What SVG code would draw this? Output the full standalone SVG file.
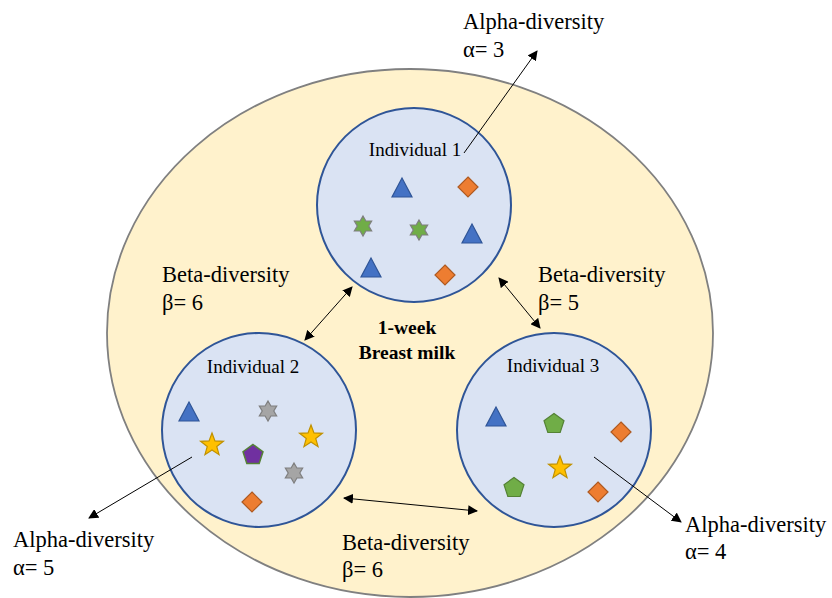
<svg xmlns="http://www.w3.org/2000/svg" width="832" height="598" viewBox="0 0 832 598">
<style>
.lbl{font-family:"Liberation Serif","Times New Roman",serif;font-size:22.5px;fill:#000}
.ind{font-family:"Liberation Serif","Times New Roman",serif;font-size:19px;fill:#000}
.ctr{font-family:"Liberation Serif","Times New Roman",serif;font-size:19.5px;font-weight:bold;fill:#000}
.circ{fill:#DAE3F3;stroke:#2F5597;stroke-width:2}
.ln{stroke:#000;stroke-width:1;fill:none}
.tri{fill:#4472C4;stroke:#2F5597;stroke-width:1.2}
.dia{fill:#ED7D31;stroke:#AE5A21;stroke-width:1.2}
.gst{fill:#70AD47;stroke:#7F7F7F;stroke-width:1.2}
.sst{fill:#A5A5A5;stroke:#7F7F7F;stroke-width:1.2}
.yst{fill:#FFC000;stroke:#BF9000;stroke-width:1.2}
.ppn{fill:#7030A0;stroke:#548235;stroke-width:1.5}
.gpn{fill:#70AD47;stroke:#548235;stroke-width:1.2}
</style>
<defs>
<marker id="ah" viewBox="0 0 10 10" refX="9" refY="5" markerWidth="10" markerHeight="10" markerUnits="userSpaceOnUse" orient="auto-start-reverse">
<path d="M0,0 L10,5 L0,10 z" fill="#000"/>
</marker>
<polygon id="tri" points="0,-10 10,9 -10,9"/>
<polygon id="dia" points="0,-10 10,0 0,10 -10,0"/>
<polygon id="hex" points="0,-10 2.89,-5 8.66,-5 5.77,0 8.66,5 2.89,5 0,10 -2.89,5 -8.66,5 -5.77,0 -8.66,-5 -2.89,-5"/>
<polygon id="star" points="0,-12 2.94,-4.05 11.41,-3.71 4.76,1.55 7.05,9.71 0,5 -7.05,9.71 -4.76,1.55 -11.41,-3.71 -2.94,-4.05"/>
<polygon id="pent" points="0,-10.5 9.99,-3.24 6.17,8.49 -6.17,8.49 -9.99,-3.24"/>
</defs>
<rect width="832" height="598" fill="#fff"/>
<g id="outer">
<ellipse cx="410" cy="333" rx="303" ry="264" fill="#FFF2CC" stroke="#808080" stroke-width="1.8"/>
<text class="ctr" x="407" y="334" text-anchor="middle">1-week</text>
<text class="ctr" x="407" y="359" text-anchor="middle">Breast milk</text>
</g>
<g id="individual1">
<circle class="circ" cx="414" cy="205" r="97"/>
<text class="ind" x="415" y="156" text-anchor="middle">Individual 1</text>
<use href="#tri" class="tri" x="402" y="188"/>
<use href="#dia" class="dia" x="468" y="187"/>
<use href="#hex" class="gst" x="363" y="226"/>
<use href="#hex" class="gst" x="419" y="230"/>
<use href="#tri" class="tri" x="472" y="234"/>
<use href="#tri" class="tri" x="371" y="268"/>
<use href="#dia" class="dia" x="445" y="275"/>
</g>
<g id="individual2">
<circle class="circ" cx="259" cy="430" r="97"/>
<text class="ind" x="253" y="373" text-anchor="middle">Individual 2</text>
<use href="#tri" class="tri" x="189" y="412"/>
<use href="#hex" class="sst" x="268" y="411"/>
<use href="#star" class="yst" x="212" y="445"/>
<use href="#star" class="yst" x="311" y="437"/>
<use href="#pent" class="ppn" x="253" y="455"/>
<use href="#hex" class="sst" x="294" y="473"/>
<use href="#dia" class="dia" x="252" y="502"/>
</g>
<g id="individual3">
<circle class="circ" cx="554" cy="430" r="97"/>
<text class="ind" x="553" y="372" text-anchor="middle">Individual 3</text>
<use href="#tri" class="tri" x="496" y="417"/>
<use href="#pent" class="gpn" x="554" y="424"/>
<use href="#dia" class="dia" x="621" y="432"/>
<use href="#star" class="yst" x="560" y="468"/>
<use href="#pent" class="gpn" x="514" y="488"/>
<use href="#dia" class="dia" x="598" y="492"/>
</g>
<g id="labels">
<text class="lbl" x="463" y="29">Alpha-diversity</text>
<text class="lbl" x="463" y="57">α= 3</text>
<text class="lbl" x="13" y="547">Alpha-diversity</text>
<text class="lbl" x="13" y="575">α= 5</text>
<text class="lbl" x="685" y="532">Alpha-diversity</text>
<text class="lbl" x="685" y="559">α= 4</text>
<text class="lbl" x="162" y="282">Beta-diversity</text>
<text class="lbl" x="162" y="310">β= 6</text>
<text class="lbl" x="538" y="282">Beta-diversity</text>
<text class="lbl" x="538" y="310">β= 5</text>
<text class="lbl" x="342" y="550">Beta-diversity</text>
<text class="lbl" x="342" y="577">β= 6</text>
</g>
<g id="connectors">
<line class="ln" x1="464" y1="153" x2="537" y2="51" marker-end="url(#ah)"/>
<line class="ln" x1="192" y1="457" x2="89" y2="518" marker-end="url(#ah)"/>
<line class="ln" x1="594" y1="457" x2="681" y2="522" marker-end="url(#ah)"/>
<line class="ln" x1="305" y1="340" x2="352" y2="287" marker-start="url(#ah)" marker-end="url(#ah)"/>
<line class="ln" x1="499" y1="278" x2="540" y2="328" marker-start="url(#ah)" marker-end="url(#ah)"/>
<line class="ln" x1="344" y1="498" x2="477" y2="511" marker-start="url(#ah)" marker-end="url(#ah)"/>
</g>
</svg>
